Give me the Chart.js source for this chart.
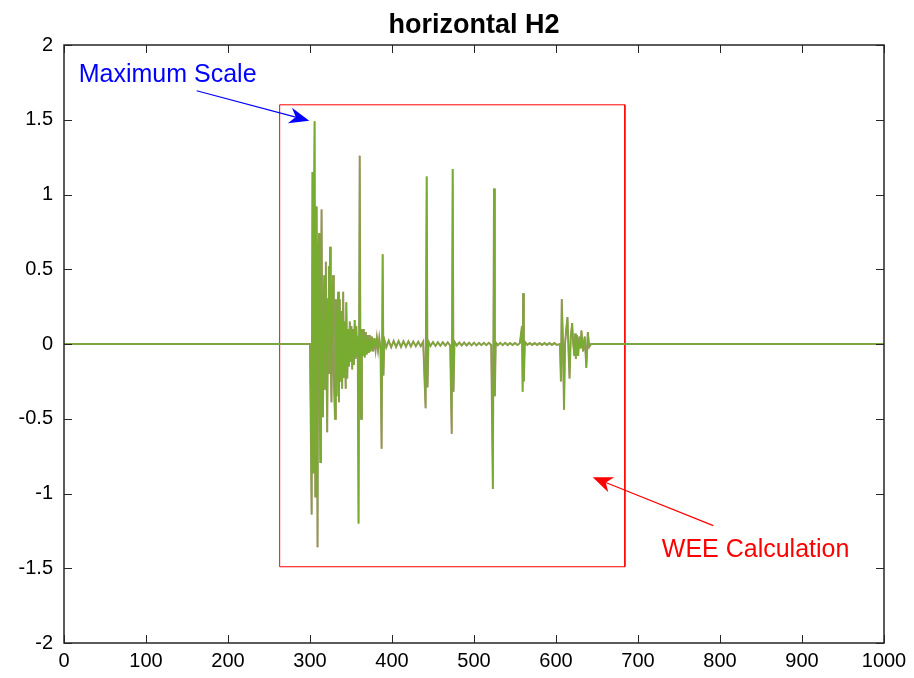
<!DOCTYPE html>
<html>
<head>
<meta charset="utf-8">
<script src="https://cdn.jsdelivr.net/npm/chart.js@4/dist/chart.umd.min.js"></script>
<style>
  html, body { margin: 0; padding: 0; background: #fff; }
  canvas { display: block; }
</style>
</head>
<body>
<canvas id="chart" width="914" height="678"></canvas>
<script>
// axis ranges
const xRange = [0, 1000]
const yRange = [-2, 2]
const xStep = 100
const yStep = 0.5

// horizontal H2 record: sample positions and amplitudes
const sampleX = [
  0, 300, 301, 302, 303, 303.8, 304.6, 305.6, 306.5, 307.3, 308.1, 309.2, 310, 311, 311.8, 312.6,
  313.4, 314.1, 315, 315.8, 316.6, 317.4, 318.4, 319.3, 320.2, 321, 322, 323, 323.8, 324.5, 325.3,
  326.2, 327.2, 328.1, 329, 330.5, 331.5, 332.5, 333.4, 334.4, 335.3, 336.3, 337.2, 338.2, 339.2,
  340.5, 341.5, 342.5, 343.5, 344.3, 345.5, 346.5, 347.5, 348.5, 349.5, 350.5, 351.5, 352.5, 353.5,
  354.5, 355.5, 356.5, 357.5, 358.2, 359.2, 360.6, 361.5, 362.2, 363.3, 364.5, 365.6, 366.8, 368,
  369.2, 370.4, 371.6, 372.8, 374, 375.5, 377, 378.5, 380, 381.5, 383, 384.5, 386, 387.3, 388.6,
  389.6, 390.6, 393, 396, 399, 402, 405, 408, 411, 414, 417, 420, 423, 426, 429, 432, 435, 438,
  441, 442.3, 443.3, 444.5, 447, 450, 453, 456, 459, 462, 465, 468, 471, 472.8, 474, 475, 476.2,
  479, 482, 485, 488, 491, 494, 497, 500, 503, 506, 509, 512, 515, 518, 521, 523, 524.4, 525.4,
  526.5, 529, 532, 535, 538, 541, 544, 547, 550, 553, 556, 558.5, 559.3, 559.9, 560.8, 562, 565,
  568, 571, 574, 577, 580, 583, 586, 589, 592, 595, 598, 601, 604.8, 606, 607, 608.3, 609.8, 611,
  612.5, 614, 615.3, 616.5, 618, 619.7, 621, 622.4, 623.3, 624.2, 625.5, 627, 628.5, 630, 631, 633,
  635, 637, 638.8, 640.5, 642.7, 1000
]
const signalH2 = [
  0, 0, 0, -1.14, 1.15, -0.86, 0.6, 1.49, -1.02, 0.3, 0.92, -1.36, 0.5, 0.74, -0.3, -0.79,
  0.2, 0.9, -0.1, -0.49, 0.2, 0.46, -0.3, 0.55, -0.2, -0.59, 0.3, 0.52, -0.2, 0.65, -0.1,
  -0.39, 0.25, 0.46, -0.2, -0.5, 0.3, -0.35, 0.2, 0.35, -0.39, 0.3, -0.25, 0.22, -0.3,
  0.35, -0.22, 0.15, -0.3, 0.28, -0.23, 0.1, -0.15, 0.15, -0.12, 0.12, -0.17, 0.1, -0.14,
  0.16, -0.1, 0.12, -0.08, 0.05, -1.2, 1.26, -0.1, -0.5, 0.1, -0.08, 0.1, -0.09, 0.08,
  -0.07, 0.06, -0.06, 0.06, -0.05, 0.05, -0.05, 0.04, -0.04, 0.04, -0.04, 0.04, -0.03, -0.7, 0.6,
  -0.21, 0.03, -0.022, 0.022, -0.022, 0.02, -0.02, 0.02, -0.02, 0.018, -0.018, 0.018, -0.016, 0.016, -0.015, 0.015, -0.015, 0.015,
  -0.43, 1.12, -0.29, 0.015, -0.013, 0.013, -0.013, 0.012, -0.012, 0.012, -0.011, 0.011, -0.01, -0.6, 1.17, -0.32, 0.015,
  -0.01, 0.01, -0.01, 0.01, -0.01, 0.009, -0.009, 0.009, -0.009, 0.008, -0.008, 0.008, -0.008, 0.008, -0.007, -0.97, 1.04, -0.35,
  0.01, -0.008, 0.008, -0.008, 0.008, -0.007, 0.007, -0.007, 0.007, -0.007, 0.007, 0.12, -0.32, 0.34, -0.25, 0.015, -0.006,
  0.006, -0.006, 0.006, -0.006, 0.006, -0.006, 0.006, -0.006, 0.006, -0.006, 0.006, -0.006, 0, -0.25, 0.3, 0.05, -0.44, 0,
  0.1, 0.18, -0.05, -0.23, 0.05, 0.14, 0, -0.08, 0.07, -0.1, 0.06, -0.08, 0.05, -0.03, 0.09, -0.05,
  0.05, -0.16, 0.08, -0.02, 0, 0
]

// the red "WEE Calculation" window
const boxX = [263, 263, 684, 684, 263]
const boxY = [-1.49, 1.6, 1.6, -1.49, -1.49]

// annotations (data coordinates)
const notes = [
  { text: 'Maximum Scale', color: '#0000ff', at: [18, 1.753], tail: [161.8, 1.694], tip: [299.1, 1.494] },
  { text: 'WEE Calculation', color: '#ff0000', at: [729, -1.425], tail: [791.8, -1.215], tip: [644.8, -0.892] }
]

const pts = (xs, ys) => xs.map((x, i) => ({ x, y: ys[i] }))

const drawArrow = (ctx, x0, y0, x1, y1, color) => {
  const ang = Math.atan2(y1 - y0, x1 - x0)
  const len = 20
  const half = 8
  const notch = 6
  const bx = x1 - len * Math.cos(ang)
  const by = y1 - len * Math.sin(ang)
  const nx = x1 - (len - notch) * Math.cos(ang)
  const ny = y1 - (len - notch) * Math.sin(ang)
  ctx.strokeStyle = color
  ctx.fillStyle = color
  ctx.lineWidth = 1.2
  ctx.beginPath()
  ctx.moveTo(x0, y0)
  ctx.lineTo(nx, ny)
  ctx.stroke()
  ctx.beginPath()
  ctx.moveTo(x1, y1)
  ctx.lineTo(bx - half * Math.sin(ang), by + half * Math.cos(ang))
  ctx.lineTo(nx, ny)
  ctx.lineTo(bx + half * Math.sin(ang), by - half * Math.cos(ang))
  ctx.closePath()
  ctx.fill()
}

const matlabFrame = {
  id: 'matlabFrame',
  afterDatasetsDraw (chart) {
    const { ctx, chartArea: a, scales: { x, y } } = chart
    ctx.save()
    ctx.strokeStyle = '#262626'
    ctx.lineWidth = 1.5
    ctx.strokeRect(a.left, a.top, a.right - a.left, a.bottom - a.top)
    ctx.lineWidth = 1
    ctx.beginPath()
    x.ticks.forEach(t => {
      const px = Math.round(x.getPixelForValue(t.value)) + 0.5
      ctx.moveTo(px, a.bottom); ctx.lineTo(px, a.bottom - 8)
      ctx.moveTo(px, a.top); ctx.lineTo(px, a.top + 8)
    })
    y.ticks.forEach(t => {
      const py = Math.round(y.getPixelForValue(t.value)) + 0.5
      ctx.moveTo(a.left, py); ctx.lineTo(a.left + 8, py)
      ctx.moveTo(a.right, py); ctx.lineTo(a.right - 8, py)
    })
    ctx.stroke()

    // title
    ctx.fillStyle = '#000'
    ctx.font = 'bold 27px "Liberation Sans", Arial, sans-serif'
    ctx.textAlign = 'center'
    ctx.textBaseline = 'alphabetic'
    ctx.fillText('horizontal H2', (a.left + a.right) / 2, 33)

    // annotations
    ctx.textAlign = 'left'
    ctx.font = '25px "Liberation Sans", Arial, sans-serif'
    notes.forEach(n => {
      drawArrow(ctx,
        x.getPixelForValue(n.tail[0]), y.getPixelForValue(n.tail[1]),
        x.getPixelForValue(n.tip[0]), y.getPixelForValue(n.tip[1]), n.color)
      ctx.fillStyle = n.color
      ctx.fillText(n.text, x.getPixelForValue(n.at[0]), y.getPixelForValue(n.at[1]))
    })
    ctx.restore()
  }
}

const ctx = document.getElementById('chart').getContext('2d')
// eslint-disable-next-line
new Chart(ctx, {
  type: 'line',
  data: {
    datasets: [
      {
        label: 'WEE window',
        data: pts(boxX, boxY),
        borderColor: '#ff0000',
        borderWidth: 1,
        pointRadius: 0,
        tension: 0,
        order: 3
      },
      {
        label: 'H2 raw',
        data: pts(sampleX, signalH2),
        borderColor: 'rgb(165,140,115)',
        borderWidth: 2,
        pointRadius: 0,
        tension: 0,
        order: 2
      },
      {
        label: 'H2',
        data: pts(sampleX, signalH2),
        borderColor: '#77AC30',
        borderWidth: 1.3,
        pointRadius: 0,
        tension: 0,
        order: 1
      }
    ]
  },
  options: {
    responsive: false,
    animation: false,
    events: [],
    layout: { padding: { top: 45, right: 30, left: 0, bottom: 0 } },
    plugins: {
      legend: { display: false },
      title: { display: false },
      tooltip: { enabled: false }
    },
    scales: {
      x: {
        type: 'linear',
        min: xRange[0],
        max: xRange[1],
        afterFit: s => { s.height = 35 },
        grid: { display: false, drawTicks: false },
        border: { display: false },
        ticks: {
          stepSize: xStep,
          padding: 6,
          color: '#000',
          font: { family: '"Liberation Sans", Arial, sans-serif', size: 20 },
          maxRotation: 0,
          autoSkip: false,
          callback: v => String(v)
        }
      },
      y: {
        type: 'linear',
        min: yRange[0],
        max: yRange[1],
        afterFit: s => { s.width = 64 },
        grid: { display: false, drawTicks: false },
        border: { display: false },
        ticks: {
          stepSize: yStep,
          padding: 11,
          color: '#000',
          font: { family: '"Liberation Sans", Arial, sans-serif', size: 20 },
          callback: v => String(v)
        }
      }
    }
  },
  plugins: [matlabFrame]
})
</script>
</body>
</html>
